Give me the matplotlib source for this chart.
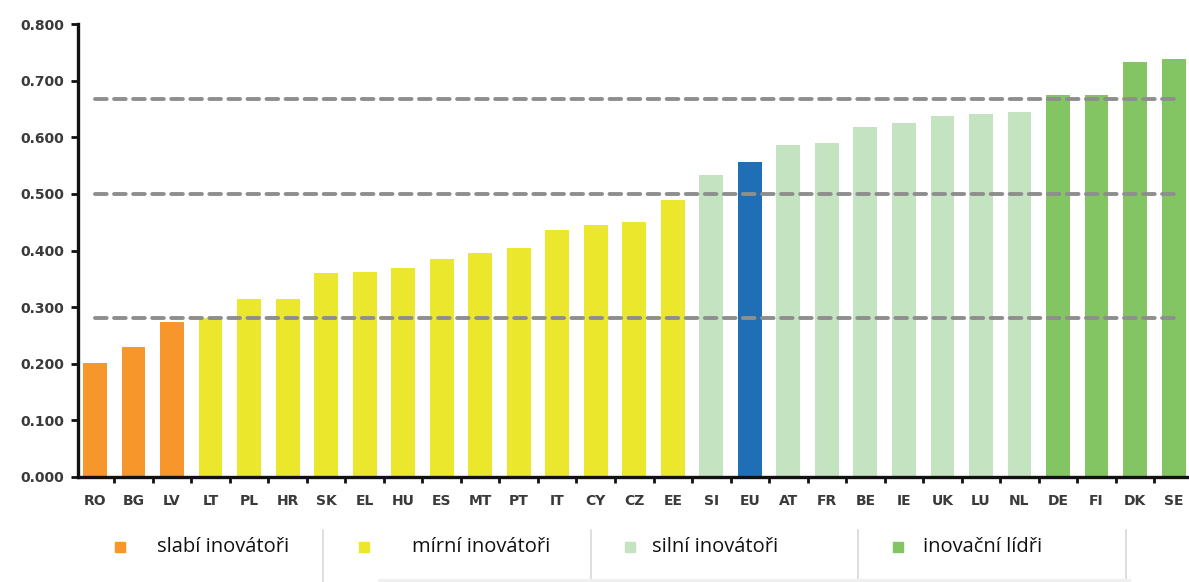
import matplotlib.pyplot as plt
from matplotlib.lines import Line2D
from matplotlib.patches import Rectangle

# Summary innovation index by country
countries = ['RO', 'BG', 'LV', 'LT', 'PL', 'HR', 'SK', 'EL', 'HU', 'ES', 'MT', 'PT',
             'IT', 'CY', 'CZ', 'EE', 'SI', 'EU', 'AT', 'FR', 'BE', 'IE', 'UK', 'LU',
             'NL', 'DE', 'FI', 'DK', 'SE']
values = [0.201, 0.229, 0.274, 0.280, 0.314, 0.314, 0.360, 0.362, 0.369, 0.385, 0.396,
          0.405, 0.436, 0.445, 0.450, 0.489, 0.534, 0.556, 0.587, 0.590, 0.618, 0.625,
          0.638, 0.641, 0.645, 0.675, 0.675, 0.733, 0.738]
groups = ['slabí'] * 3 + ['mírní'] * 13 + ['silní'] + ['EU'] + ['silní'] * 7 + ['lídři'] * 4

# thresholds between the groups
thresholds = [0.280, 0.500, 0.667]

group_colors = {'slabí': '#F7962B', 'mírní': '#EBE72C', 'silní': '#C4E3C1',
                'lídři': '#84C563', 'EU': '#1F6FB6'}
legend_labels = ['slabí inovátoři', 'mírní inovátoři', 'silní inovátoři', 'inovační lídři']
legend_keys = ['slabí', 'mírní', 'silní', 'lídři']

W, H = 1189, 582
fig = plt.figure(figsize=(W / 100, H / 100), dpi=100)
ax = fig.add_axes([78 / W, (H - 477) / H, 1 - 78 / W, (477 - 24) / H])

x = list(range(len(countries)))
ax.bar(x, values, width=0.62, color=[group_colors[g] for g in groups], zorder=2)

for t in thresholds:
    ax.plot([0, len(countries) - 1], [t, t], color='#8E8E8E', lw=2.8, dashes=(3.0, 1.9),
            zorder=3, dash_capstyle='round')

ax.set_xlim(-0.44, len(countries) - 0.6)
ax.set_ylim(0, 0.8)
ax.set_yticks([i / 10 for i in range(9)])
ax.set_yticklabels([f'{i / 10:.3f}' for i in range(9)])
ax.set_xticks(x)
ax.set_xticklabels(countries)
ax.set_xticks([i + 0.5 for i in range(len(countries) - 1)], minor=True)

for side in ['top', 'right']:
    ax.spines[side].set_visible(False)
for side in ['left', 'bottom']:
    ax.spines[side].set_linewidth(2.4)
    ax.spines[side].set_color('#111111')

ax.tick_params(axis='y', length=5, width=2, color='#111111', pad=5)
ax.tick_params(axis='x', which='major', length=0, pad=12)
ax.tick_params(axis='x', which='minor', length=4, width=2, color='#111111')
for lab in ax.get_yticklabels() + ax.get_xticklabels():
    lab.set_fontfamily('DejaVu Sans')
    lab.set_fontweight('bold')
    lab.set_fontsize(10)
    lab.set_color('#3A3A3A')

# legend row at the bottom
marker_x = [120, 364, 630, 898]
text_x = [157, 412, 652, 923]
ly = H - 547
for mx, tx, key, label in zip(marker_x, text_x, legend_keys, legend_labels):
    fig.patches.append(Rectangle(((mx - 5) / W, (ly - 5) / H), 10 / W, 10 / H,
                                 transform=fig.transFigure, color=group_colors[key]))
    fig.text(tx / W, ly / H, label, fontsize=14.5, family='Open Sans',
             va='center', ha='left', color='#111111')

for sx in [323, 591, 858, 1126]:
    fig.add_artist(Line2D([sx / W, sx / W], [0, (H - 530) / H],
                          transform=fig.transFigure, color='#D9D9D9', lw=1.2))
fig.add_artist(Line2D([380 / W, 1 - 60 / W], [1.5 / H, 1.5 / H],
                      transform=fig.transFigure, color='#F0F0F0', lw=3))

fig.savefig('out.png', dpi=100)
